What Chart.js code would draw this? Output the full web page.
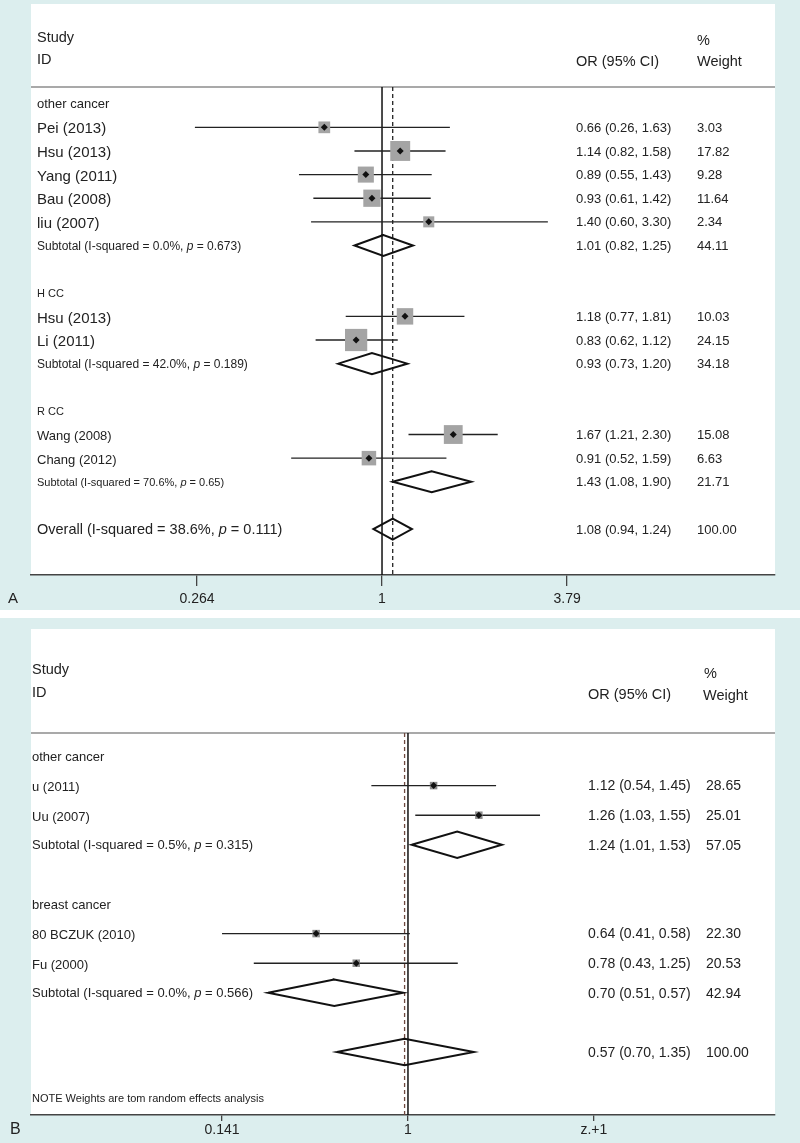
<!DOCTYPE html>
<html>
<head>
<meta charset="utf-8">
<script src="https://cdn.jsdelivr.net/npm/chart.js@4.4.1/dist/chart.umd.min.js"></script>
<style>
html, body { margin: 0; padding: 0; background: #dceeee; }
#wrap { position: relative; width: 800px; height: 1143px; background: #dceeee; overflow: hidden; }
#gap { position: absolute; left: 0; top: 610px; width: 800px; height: 8px; background: #fff; }
#cA { position: absolute; left: 0; top: 0; }
#cB { position: absolute; left: 0; top: 618px; }
</style>
</head>
<body>
<div id="wrap">
  <div id="gap"></div>
  <canvas id="cA" width="800" height="614"></canvas>
  <canvas id="cB" width="800" height="525"></canvas>
</div>
<script>
// ---- panel A data ----
const rowsA = ['other cancer', 'Pei (2013)', 'Hsu (2013)', 'Yang (2011)', 'Bau (2008)', 'liu (2007)',
  'Subtotal (I-squared = 0.0%, p = 0.673)', '',
  'H CC', 'Hsu (2013)', 'Li (2011)', 'Subtotal (I-squared = 42.0%, p = 0.189)', '',
  'R CC', 'Wang (2008)', 'Chang (2012)', 'Subtotal (I-squared = 70.6%, p = 0.65)', '',
  'Overall (I-squared = 38.6%, p = 0.111)'];
const kindA = ['group', 'study', 'study', 'study', 'study', 'study', 'sub', '',
  'group', 'study', 'study', 'sub', '', 'group', 'study', 'study', 'sub', '', 'sub'];
const estA = [null, 0.66, 1.14, 0.89, 0.93, 1.40, 1.01, null, null, 1.18, 0.83, 0.93, null, null, 1.67, 0.91, 1.43, null, 1.08];
const loA  = [null, 0.26, 0.82, 0.55, 0.61, 0.60, 0.82, null, null, 0.77, 0.62, 0.73, null, null, 1.21, 0.52, 1.08, null, 0.94];
const hiA  = [null, 1.63, 1.58, 1.43, 1.42, 3.30, 1.25, null, null, 1.81, 1.12, 1.20, null, null, 2.30, 1.59, 1.90, null, 1.24];
const orTextA = ['', '0.66 (0.26, 1.63)', '1.14 (0.82, 1.58)', '0.89 (0.55, 1.43)', '0.93 (0.61, 1.42)', '1.40 (0.60, 3.30)',
  '1.01 (0.82, 1.25)', '', '', '1.18 (0.77, 1.81)', '0.83 (0.62, 1.12)', '0.93 (0.73, 1.20)', '', '',
  '1.67 (1.21, 2.30)', '0.91 (0.52, 1.59)', '1.43 (1.08, 1.90)', '', '1.08 (0.94, 1.24)'];
const wtTextA = ['', '3.03', '17.82', '9.28', '11.64', '2.34', '44.11', '', '', '10.03', '24.15', '34.18', '', '',
  '15.08', '6.63', '21.71', '', '100.00'];
const pooledA = 1.08;
const tickValA = [0.264, 1, 3.79];
const tickLabA = ['0.264', '1', '3.79'];

// ---- panel B data ----
const rowsB = ['other cancer', 'u (2011)', 'Uu (2007)', 'Subtotal (I-squared = 0.5%, p = 0.315)', '',
  'breast cancer', '80 BCZUK (2010)', 'Fu (2000)', 'Subtotal (I-squared = 0.0%, p = 0.566)', '', ''];
const kindB = ['group', 'study', 'study', 'sub', '', 'group', 'study', 'study', 'sub', '', 'sub'];
const estB = [null, 1.31, 2.11, 1.68, null, null, 0.38, 0.58, 0.46, null, 0.965];
const loB  = [null, 0.68, 1.08, 1.04, null, null, 0.141, 0.197, 0.229, null, 0.473];
const hiB  = [null, 2.53, 4.02, 2.69, null, null, 1.02, 1.69, 0.95, null, 2.00];
const orTextB = ['', '1.12 (0.54, 1.45)', '1.26 (1.03, 1.55)', '1.24 (1.01, 1.53)', '', '',
  '0.64 (0.41, 0.58)', '0.78 (0.43, 1.25)', '0.70 (0.51, 0.57)', '', '0.57 (0.70, 1.35)'];
const wtTextB = ['', '28.65', '25.01', '57.05', '', '', '22.30', '20.53', '42.94', '', '100.00'];
const pooledB = 0.965;
const tickValB = [0.141, 1, 7.09];
const tickLabB = ['0.141', '1', 'z.+1'];
const noteB = 'NOTE Weights are tom random effects analysis';

const FAM = '"Liberation Sans", Arial, Helvetica, sans-serif';
const INK = '#222';

// layout / looks of each panel
const styleA = {
  id: 'cA', H: 614, top: 87, whiteTop: 4, axisY: 575,
  xMin: 0.0799, xMax: 16.93, rowBase: 103.7, rowStep: 23.63,
  tickLen: 11, tickPad: 5, textX: 37, orX: 576, wtX: 697,
  rowFont: [13, 15, 15, 15, 15, 15, 12, 0, 11, 15, 15, 12, 0, 11, 13, 13, 11, 0, 14.5],
  colFont: 13, dHalf: 10.5,
  square: w => 6 + 3.3 * Math.sqrt(w), squareColor: '#a4a4a4', dashColor: '#222',
  head: [['Study', 37, 38], ['ID', 37, 60], ['%', 697, 41], ['OR (95% CI)', 576, 62], ['Weight', 697, 62]],
  headFont: 14.5, letter: ['A', 8, 599, 15], note: null
};
const styleB = {
  id: 'cB', H: 525, top: 115, whiteTop: 11, axisY: 497,
  xMin: 0.01884, xMax: 47.8, rowBase: 138, rowStep: 29.6,
  tickLen: 6, tickPad: 0.8, textX: 32, orX: 588, wtX: 706,
  rowFont: [13, 13, 13, 13, 0, 13, 13, 13, 13, 0, 0],
  colFont: 14, dHalf: 13.2,
  square: () => 7.5, squareColor: '#8c8c8c', dashColor: '#6e4a40',
  head: [['Study', 32, 52], ['ID', 32, 75], ['%', 704, 56], ['OR (95% CI)', 588, 77], ['Weight', 703, 78]],
  headFont: 14.5, letter: ['B', 10, 512, 16], note: [noteB, 32, 481, 11]
};

// text with an italic "p"
function richText(ctx, txt, x, y, size) {
  const k = txt.indexOf(', p = ');
  ctx.font = size + 'px ' + FAM;
  if (k < 0) { ctx.fillText(txt, x, y); return; }
  const a = txt.slice(0, k + 2), b = txt.slice(k + 3);
  ctx.fillText(a, x, y); x += ctx.measureText(a).width;
  ctx.font = 'italic ' + size + 'px ' + FAM;
  ctx.fillText('p', x, y); x += ctx.measureText('p').width;
  ctx.font = size + 'px ' + FAM;
  ctx.fillText(b, x, y);
}

function panelPlugin(st, rows, kind, orText, wtText) {
  return {
    id: 'forestPanel',
    beforeDraw(chart) {
      const { ctx, chartArea: a } = chart;
      ctx.save();
      ctx.fillStyle = '#fff';
      ctx.fillRect(a.left, st.whiteTop, a.right - a.left, a.bottom - st.whiteTop);
      ctx.strokeStyle = '#555'; ctx.lineWidth = 1.2;
      ctx.beginPath(); ctx.moveTo(a.left, a.top); ctx.lineTo(a.right, a.top); ctx.stroke();
      ctx.restore();
    },
    afterDraw(chart) {
      const { ctx } = chart, ys = chart.scales.y;
      ctx.save();
      ctx.fillStyle = INK; ctx.textBaseline = 'middle'; ctx.textAlign = 'left';
      st.head.forEach(h => { ctx.font = st.headFont + 'px ' + FAM; ctx.fillText(h[0], h[1], h[2]); });
      rows.forEach((r, i) => {
        const y = ys.getPixelForValue(i);
        const dy = kind[i] === 'study' ? 2 : 1;
        if (r) richText(ctx, r, st.textX, y + dy, st.rowFont[i]);
        ctx.font = st.colFont + 'px ' + FAM;
        if (orText[i]) ctx.fillText(orText[i], st.orX, y + 1);
        if (wtText[i]) ctx.fillText(wtText[i], st.wtX, y + 1);
      });
      const L = st.letter;
      ctx.font = L[3] + 'px ' + FAM; ctx.fillText(L[0], L[1], L[2]);
      if (st.note) { ctx.font = st.note[3] + 'px ' + FAM; ctx.fillText(st.note[0], st.note[1], st.note[2]); }
      ctx.restore();
    }
  };
}

function buildDatasets(st, est, lo, hi, kind, wtText, pooled, yMin, yMax) {
  const ds = [];
  ds.push({ data: [{ x: 1, y: yMin }, { x: 1, y: yMax }], showLine: true, borderColor: '#111',
    borderWidth: 1.5, pointRadius: 0, order: 5 });
  ds.push({ data: [{ x: pooled, y: yMin }, { x: pooled, y: yMax }], showLine: true, borderColor: st.dashColor,
    borderWidth: 1.3, borderDash: [4, 3], pointRadius: 0, order: 5 });
  const sq = [], sizes = [];
  const h = st.dHalf / st.rowStep;
  est.forEach((e, i) => {
    if (e == null) return;
    if (kind[i] === 'study') {
      ds.push({ data: [{ x: lo[i], y: i }, { x: hi[i], y: i }], showLine: true, borderColor: INK,
        borderWidth: 1.4, pointRadius: 0, order: 3 });
      sq.push({ x: e, y: i });
      sizes.push(st.square(parseFloat(wtText[i])) / (2 * Math.SQRT1_2));
    } else {
      // summary diamond; first edge repeated so every vertex gets a joined corner
      ds.push({ data: [{ x: lo[i], y: i }, { x: e, y: i - h }, { x: hi[i], y: i }, { x: e, y: i + h },
        { x: lo[i], y: i }, { x: e, y: i - h }],
        showLine: true, borderColor: '#111', borderWidth: 2, borderJoinStyle: 'miter', pointRadius: 0, order: 2 });
    }
  });
  ds.push({ data: sq, pointStyle: 'rect', pointRadius: sizes, backgroundColor: st.squareColor, borderWidth: 0, order: 1 });
  ds.push({ data: sq, pointStyle: 'rectRot', pointRadius: 3.5, backgroundColor: '#111', borderWidth: 0, order: 0 });
  return ds;
}

function makePanel(st, rows, kind, est, lo, hi, orText, wtText, pooled, tickVals, tickLabs) {
  const yMin = (st.top - st.rowBase) / st.rowStep;
  const yMax = (st.axisY - st.rowBase) / st.rowStep;
  const bottomPad = st.H - st.axisY - (st.tickLen + 14 * 1.2 + 2 * st.tickPad);
  return new Chart(document.getElementById(st.id), {
    type: 'scatter',
    data: { datasets: buildDatasets(st, est, lo, hi, kind, wtText, pooled, yMin, yMax) },
    options: {
      responsive: false, animation: false, events: [],
      layout: { padding: { top: st.top, left: 31, right: 25, bottom: bottomPad } },
      plugins: { legend: { display: false }, tooltip: { enabled: false } },
      scales: {
        x: {
          type: 'logarithmic', min: st.xMin, max: st.xMax,
          afterBuildTicks: s => { s.ticks = tickVals.map(v => ({ value: v })); },
          ticks: { callback: (v, i) => tickLabs[i], autoSkip: false, maxRotation: 0,
            padding: st.tickPad, color: INK, font: { family: FAM, size: 14 } },
          grid: { drawOnChartArea: false, drawTicks: true, tickLength: st.tickLen, color: '#444', lineWidth: 1.3 },
          border: { display: true, color: '#444', width: 1.5 }
        },
        y: { type: 'linear', reverse: true, min: yMin, max: yMax, display: false }
      }
    },
    plugins: [panelPlugin(st, rows, kind, orText, wtText)]
  });
}

makePanel(styleA, rowsA, kindA, estA, loA, hiA, orTextA, wtTextA, pooledA, tickValA, tickLabA);
makePanel(styleB, rowsB, kindB, estB, loB, hiB, orTextB, wtTextB, pooledB, tickValB, tickLabB);
</script>
</body>
</html>
